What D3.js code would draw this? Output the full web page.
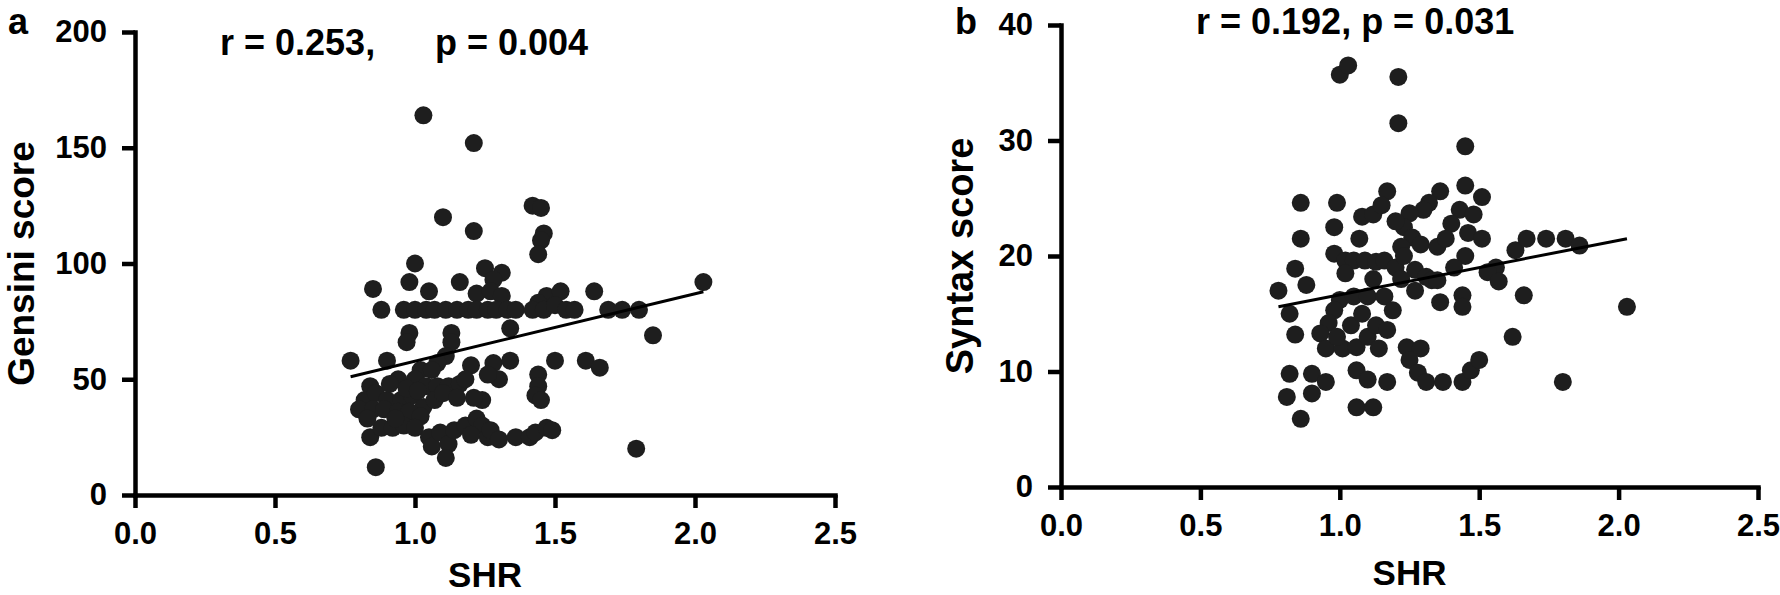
<!DOCTYPE html>
<html>
<head>
<meta charset="utf-8">
<script src="https://cdn.jsdelivr.net/npm/d3@7"></script>
<style>
  body { margin: 0; background: #fff; }
  svg { display: block; }
  text { font-family: "Liberation Sans", Arial, sans-serif; fill: #000; }
</style>
</head>
<body>
<div id="chart"></div>
<script>
// panel a: SHR vs Gensini score
const shrA = [
  1.03, 1.21, 1.42, 1.45, 1.10, 1.21, 1.46, 1.45, 1.44, 1.00, 1.25, 1.31, 0.98, 1.16, 1.28, 2.03,
  0.85, 1.05, 1.22, 1.27, 1.31, 1.47, 1.52, 1.64, 1.44,
  0.88, 0.96, 1.00, 1.04, 1.07, 1.11, 1.15, 1.19, 1.22, 1.26, 1.29, 1.33, 1.36, 1.42, 1.46, 1.50, 1.54, 1.57, 1.69, 1.74, 1.80,
  0.98, 0.97, 1.13, 1.13, 1.34, 1.85,
  0.77, 0.90, 1.11, 1.08, 1.28, 1.34, 1.50, 1.61, 1.66, 1.20,
  1.02, 1.06, 0.94, 1.00, 1.04, 1.08, 1.12, 1.16, 1.18, 1.30, 1.26, 1.44, 1.44, 1.43, 1.45, 1.24,
  1.21, 0.84, 0.82, 0.86, 0.90, 0.95, 0.99, 1.03, 1.07, 0.80, 0.85, 0.89, 0.94, 0.98, 1.02,
  0.84, 0.88, 0.92, 0.96, 1.00, 1.05, 1.06, 1.09, 1.12, 1.14, 1.18, 1.22, 1.24, 1.26, 1.27,
  1.30, 1.36, 1.41, 1.43, 1.47, 1.49, 1.11, 0.86, 1.79, 1.20,
  0.93, 0.97, 1.01, 0.83, 0.91, 1.10, 1.15
];
const gensini = [
  164, 152, 125, 124, 120, 114, 113, 110, 104, 100, 98, 96, 92, 92, 93, 92,
  89, 88, 87, 88, 86, 86, 88, 88, 83,
  80, 80, 80, 80, 80, 80, 80, 80, 80, 80, 80, 80, 80, 80, 80, 82, 80, 80, 80, 80, 80,
  70, 66, 70, 66, 72, 69,
  58, 58, 60, 57, 57, 58, 58, 58, 55, 56,
  54, 54, 50, 50, 47, 47, 47, 48, 50, 50, 52, 52, 47, 43, 41, 41,
  42, 47, 41, 44, 41, 41, 43, 38, 41, 37, 37, 37, 36, 36, 34,
  25, 29, 29, 30, 29, 25, 21, 27, 22, 28, 30, 33, 30, 25, 28,
  24, 25, 25, 27, 29, 28, 16, 12, 20, 26,
  33, 46, 45, 33, 48, 44, 42
];
const fitA = [[0.77, 51.1], [2.03, 87.8]];

// panel b: SHR vs Syntax score
const shrB = [
  1.00, 1.03, 1.21, 1.21, 1.45,
  1.45, 1.51, 1.36, 1.17, 0.86, 0.99, 1.32, 1.30, 1.43, 1.48, 1.25, 1.08, 1.12, 1.15,
  0.98, 1.23, 1.26, 1.40, 1.46, 0.86, 1.07, 1.29, 1.22, 1.35, 1.51, 1.45,
  0.98, 1.02, 1.05, 1.09, 1.13, 1.16, 1.20, 0.84, 0.88, 0.78, 1.27, 1.31, 1.33, 1.35,
  1.63, 1.67, 1.74, 1.81, 1.86, 1.56, 1.53, 1.57,
  1.36, 1.44, 1.44, 1.66, 2.03, 0.82, 0.84, 1.62,
  1.00, 1.05, 1.10, 1.16, 1.19, 0.98, 0.96, 0.93, 0.95, 1.01, 1.06, 1.10, 1.13, 1.17, 1.04, 1.08,
  1.24, 1.29, 1.25, 1.28, 1.31, 1.37, 1.44, 1.47, 1.50, 1.80,
  0.82, 0.81, 0.90, 0.95, 0.90, 0.86, 1.06, 1.10, 1.17, 1.06, 1.12,
  1.20, 1.23, 1.27, 1.22, 1.02, 1.12, 1.38, 1.41, 1.14, 0.99
];
const syntax = [
  35.7, 36.5, 35.5, 31.5, 29.5,
  26.1, 25.1, 25.6, 25.6, 24.6, 24.6, 24.6, 24.0, 24.0, 23.6, 23.7, 23.4, 23.6, 24.4,
  22.5, 22.5, 21.6, 22.8, 22.0, 21.5, 21.5, 21.0, 20.8, 20.8, 21.5, 20.0,
  20.2, 19.6, 19.6, 19.6, 19.5, 19.6, 19.0, 18.9, 17.5, 17.0, 18.8, 18.2, 17.9, 17.9,
  20.5, 21.5, 21.5, 21.5, 20.9, 19.0, 18.6, 17.8,
  16.0, 16.6, 15.6, 16.6, 15.6, 15.0, 13.2, 13.0,
  16.2, 16.5, 16.5, 16.5, 15.3, 15.3, 14.2, 13.3, 12.0, 12.0, 12.1, 13.0, 14.0, 13.6, 14.0, 15.0,
  12.1, 12.0, 11.0, 9.9, 9.1, 9.1, 9.1, 10.1, 11.0, 9.1,
  9.8, 7.8, 9.8, 9.1, 8.1, 5.9, 10.1, 9.3, 9.1, 6.9, 6.9,
  23.0, 20.0, 17.0, 18.0, 18.5, 18.0, 21.5, 19.0, 12.0, 13.0
];
const fitB = [[0.78, 15.6], [2.03, 21.5]];

const xTicks = [0, 0.5, 1.0, 1.5, 2.0, 2.5];
const yTicksA = [0, 50, 100, 150, 200];
const yTicksB = [0, 10, 20, 30, 40];

const width = 1780;
const height = 595;

const svg = d3.select("#chart")
              .append("svg")
              .attr("width", width)
              .attr("height", height);

function drawPanel(p) {
    const x = d3.scaleLinear().domain([0, 2.5]).range([p.left, p.right]);
    const y = d3.scaleLinear().domain(p.yDomain).range([p.bottom, p.top]);
    const g = svg.append("g");

    // points
    g.selectAll("circle")
     .data(p.xs.map((v, i) => [v, p.ys[i]]))
     .enter()
     .append("circle")
     .attr("cx", d => x(d[0]))
     .attr("cy", d => y(d[1]))
     .attr("r", 9)
     .attr("fill", "#1e1e1e");

    // regression line
    g.append("line")
     .attr("x1", x(p.fit[0][0])).attr("y1", y(p.fit[0][1]))
     .attr("x2", x(p.fit[1][0])).attr("y2", y(p.fit[1][1]))
     .attr("stroke", "#000")
     .attr("stroke-width", 3);

    // x axis
    const xa = g.append("g")
       .attr("transform", `translate(0, ${p.bottom})`)
       .call(d3.axisBottom(x).tickValues(xTicks).tickFormat(d3.format(".1f"))
               .tickSize(13).tickPadding(14).tickSizeOuter(0));

    // y axis
    const ya = g.append("g")
       .attr("transform", `translate(${p.left}, 0)`)
       .call(d3.axisLeft(y).tickValues(p.yTicks)
               .tickSize(13).tickPadding(15).tickSizeOuter(0));

    [xa, ya].forEach(a => {
        a.select(".domain").attr("stroke-width", 4.5).attr("stroke-linecap", "square");
        a.selectAll(".tick line").attr("stroke-width", 4.5);
        a.selectAll("text")
         .attr("font-family", "'Liberation Sans', Arial, sans-serif")
         .attr("font-size", 31)
         .attr("font-weight", "bold")
         .attr("fill", "#000");
    });

    // panel letter
    g.append("text")
     .attr("x", p.letterX).attr("y", 34)
     .attr("font-size", 36).attr("font-weight", "bold")
     .text(p.letter);

    // r / p annotation
    p.notes.forEach(n => {
        g.append("text")
         .attr("x", n.x).attr("y", n.y)
         .attr("font-size", 36).attr("font-weight", "bold")
         .text(n.text);
    });

    // axis titles
    g.append("text")
     .attr("x", (p.left + p.right) / 2)
     .attr("y", p.xTitleY)
     .attr("font-size", 35)
     .attr("font-weight", "bold")
     .style("text-anchor", "middle")
     .text("SHR");

    g.append("text")
     .attr("transform", `translate(${p.yTitleX}, ${(p.top + p.bottom) / 2}) rotate(-90)`)
     .attr("font-size", p.yTitleSize)
     .attr("font-weight", "bold")
     .style("text-anchor", "middle")
     .text(p.yTitle);
}

drawPanel({
    xs: shrA, ys: gensini, fit: fitA,
    yDomain: [0, 200], yTicks: yTicksA,
    left: 135, right: 835, top: 32, bottom: 495,
    letter: "a", letterX: 8,
    notes: [{ x: 220, y: 55, text: "r = 0.253," }, { x: 435, y: 55, text: "p = 0.004" }],
    xTitleY: 587, yTitleX: 34, yTitle: "Gensini score", yTitleSize: 37
});

drawPanel({
    xs: shrB, ys: syntax, fit: fitB,
    yDomain: [0, 40], yTicks: yTicksB,
    left: 1061, right: 1758, top: 25, bottom: 487,
    letter: "b", letterX: 955,
    notes: [{ x: 1196, y: 34, text: "r = 0.192, p = 0.031" }],
    xTitleY: 585, yTitleX: 973, yTitle: "Syntax score", yTitleSize: 38
});
</script>
</body>
</html>
